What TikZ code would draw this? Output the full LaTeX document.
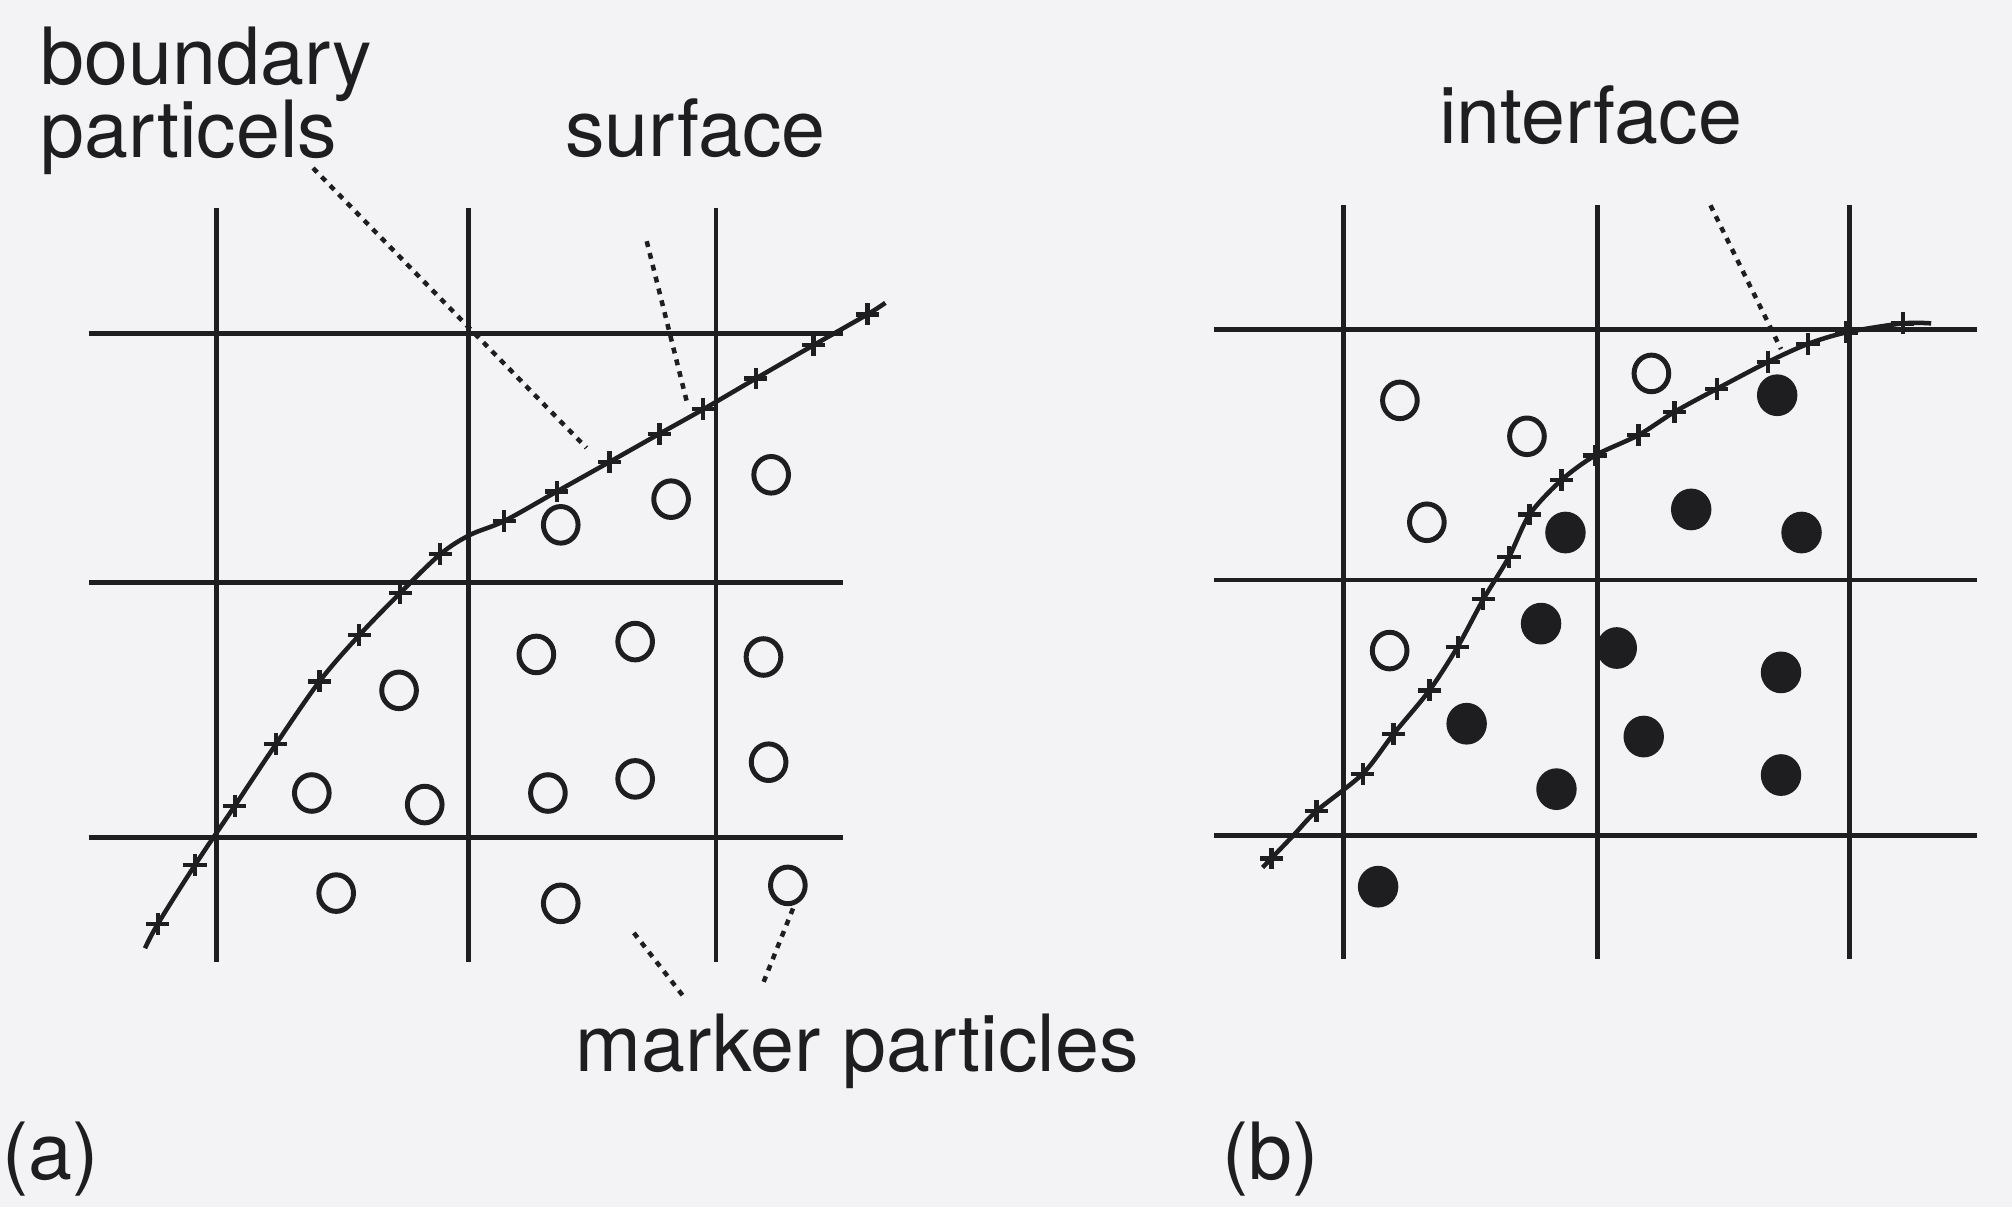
\documentclass[tikz,border=0pt]{standalone}
\usepackage{fontspec}
\setmainfont{TeX Gyre Heros}
\usetikzlibrary{shapes.geometric}
\definecolor{paper}{RGB}{243,242,245}
\definecolor{ink}{RGB}{30,29,32}
\begin{document}
\begin{tikzpicture}[x=0.01cm, y=-0.01cm,
  grid/.style={ink, line width=1.1pt},
  curveline/.style={ink, line width=1.0pt},
  crossmark/.style={ink, line width=0.95pt},
  leader/.style={ink, line width=1.0pt, dash pattern=on 1.3pt off 1.4pt},
  opencirc/.style={ellipse, draw=ink, line width=1.1pt, minimum width=0.27cm, minimum height=0.285cm, inner sep=0pt},
  fullcirc/.style={ellipse, fill=ink, minimum width=0.315cm, minimum height=0.325cm, inner sep=0pt},
  lbl/.style={inner sep=0pt, anchor=base west, text=ink, font=\fontsize{17.5pt}{16.2pt}\selectfont}]
\fill[paper] (0,0) rectangle (1568,941);
\useasboundingbox (0,0) rectangle (1568,941);

% ---------------- panel (a) ----------------
\foreach \x in {169,365,558} \draw[grid] (\x,162) -- (\x,750);
\foreach \y in {260,454,653} \draw[grid] (69,\y) -- (657,\y);

\draw[curveline] plot[smooth, tension=0.55] coordinates {(113,739) (123,720) (152,674) (183,628) (215,580) (249,531) (280,495) (312,462) (343,432) (366,417) (393,406) (434,383) (475,360) (514,338) (548,319) (589,295) (634,269) (676,245) (690,236)};
\foreach \px/\py in {123/720,152/674,183/628,215/580,249/531,280/495,312/462,343/432,393/406,434/383,475/360,514/338,548/319,589/295,634/269,676/245}
  \draw[crossmark] (\px,\py) ++(-9,0) -- ++(18,0) (\px,\py) ++(0,-8.5) -- ++(0,17);

\foreach \cx/\cy [count=\i] in {437/409,523/389,601/370,311/538,418/510,495/500,595/512,243/618,331/627,427/618,495/607,599/594,262/696,437/704,614/690}
  \node[opencirc] (oa\i) at (\cx,\cy) {};

\node[lbl] (boundary) at (31,66) {boundary};
\node[lbl] (particels) at (31,123) {particels};
\node[lbl] (surface) at (440,122) {surface};
\node[lbl] (marker) at (448,835) {marker particles};
\node[lbl] (labA) at (1,919) {(a)};

\coordinate (bpA) at (244,131); \coordinate (bpB) at (457,349);
\coordinate (sfA) at (504,188); \coordinate (sfB) at (536,316);
\coordinate (mkA) at (494,727); \coordinate (mkB) at (533,777);
\coordinate (mkC) at (618,708); \coordinate (mkD) at (594,768);
\draw[leader] (bpA) -- (bpB);
\draw[leader] (sfA) -- (sfB);
\draw[leader] (mkA) -- (mkB);
\draw[leader] (mkC) -- (mkD);

% ---------------- panel (b) ----------------
\foreach \x in {1047,1245,1441} \draw[grid] (\x,160) -- (\x,747);
\foreach \y in {257,452,651} \draw[grid] (946,\y) -- (1541,\y);

\draw[curveline] plot[smooth, tension=0.5] coordinates {(984,676) (1008,651) (1026,632) (1062,603) (1086,572) (1114,538) (1136,504) (1156,467) (1176,434) (1192,401) (1217,374) (1243,355) (1277,339) (1305,321) (1338,303) (1378,282) (1409,268) (1439,259) (1483,252) (1505,252)};
\foreach \px/\py in {991/669,1026/632,1062/603,1086/572,1114/538,1136/504,1156/467,1176/434,1192/401,1217/374,1243/355,1277/339,1305/321,1338/303,1378/282,1409/268,1439/259,1483/252}
  \draw[crossmark] (\px,\py) ++(-9,0) -- ++(18,0) (\px,\py) ++(0,-8.5) -- ++(0,17);

\foreach \cx/\cy [count=\i] in {1091/312,1190/340,1287/291,1112/407,1083/507}
  \node[opencirc] (ob\i) at (\cx,\cy) {};
\foreach \cx/\cy [count=\i] in {1385/308,1220/415,1318/397,1404/415,1201/486,1260/505,1388/524,1143/564,1281/574,1388/604,1213/615,1074/691}
  \node[fullcirc] (fb\i) at (\cx,\cy) {};

\node[lbl] (interface) at (1121,112) {interface};
\node[lbl] (labB) at (952,919) {(b)};
\coordinate (ifA) at (1333,160); \coordinate (ifB) at (1388,272);
\draw[leader] (ifA) -- (ifB);
\end{tikzpicture}
\end{document}
